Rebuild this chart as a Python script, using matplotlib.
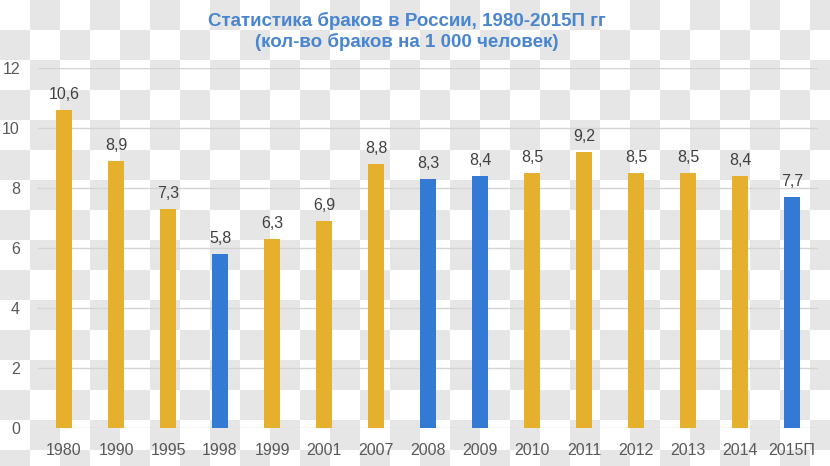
import numpy as np
import matplotlib
matplotlib.use("Agg")
import matplotlib.pyplot as plt

years = ["1980", "1990", "1995", "1998", "1999", "2001", "2007", "2008",
         "2009", "2010", "2011", "2012", "2013", "2014", "2015П"]
marriages = [10.6, 8.9, 7.3, 5.8, 6.3, 6.9, 8.8, 8.3, 8.4, 8.5, 9.2, 8.5, 8.5, 8.4, 7.7]
highlight = ["1998", "2008", "2009", "2015П"]
value_labels = ["10,6", "8,9", "7,3", "5,8", "6,3", "6,9", "8,8", "8,3",
                "8,4", "8,5", "9,2", "8,5", "8,5", "8,4", "7,7"]

gold = "#E5B02C"
blue = "#3479D4"
plt.rcParams['font.family'] = ['Liberation Sans', 'DejaVu Sans']

fig = plt.figure(figsize=(8.3, 4.66), dpi=100)

# checkerboard background (transparent-png look)
bg = fig.add_axes([0, 0, 1, 1], zorder=-1)
rows, cols = 16, 28
board = np.indices((rows, cols)).sum(axis=0) % 2
bg.imshow(board, cmap=matplotlib.colors.ListedColormap(["#ffffff", "#e6e6e6"]),
          extent=[0, cols * 30, rows * 30, 0], interpolation="nearest")
bg.set_xlim(0, 830)
bg.set_ylim(466, 0)
bg.axis("off")

ax = fig.add_axes([38 / 830, 38 / 466, 780 / 830, 360 / 466])
ax.patch.set_alpha(0)

x = np.arange(len(years))
colors = [blue if y in highlight else gold for y in years]
ax.bar(x, marriages, width=0.32, color=colors, zorder=3)

for xi, v, lab in zip(x, marriages, value_labels):
    ax.text(xi, v + 0.28, lab, ha="center", va="bottom", fontsize=11.5, color="#404040")

ax.set_xlim(-0.5, len(years) - 0.5)
ax.set_ylim(0, 12)
ax.set_yticks(range(0, 13, 2))
ax.set_xticks(x)
ax.set_xticklabels(years, fontsize=11.5, color="#595959")
ax.tick_params(axis="y", labelsize=11.5, labelcolor="#595959", length=0, pad=13)
ax.tick_params(axis="x", length=0, pad=11)
ax.grid(axis="y", color="#d4d4d4", linewidth=1, zorder=0)
for s in ax.spines.values():
    s.set_visible(False)

fig.text(0.49, 0.975, "Статистика браков в России, 1980-2015П гг\n(кол-во браков на 1 000 человек)",
         ha="center", va="top", fontsize=13.5, fontweight="bold", color="#4A85CF",
         linespacing=1.2)

fig.savefig("out.png", dpi=100)
